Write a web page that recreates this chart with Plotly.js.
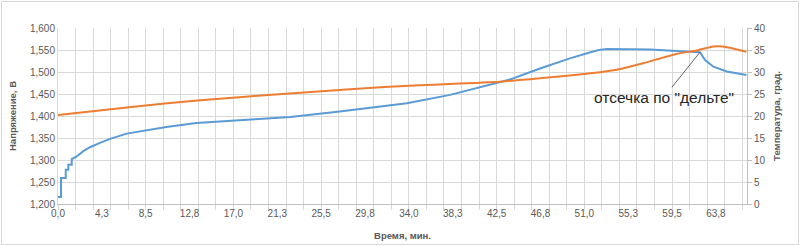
<!DOCTYPE html>
<html><head><meta charset="utf-8">
<script src="https://cdn.plot.ly/plotly-3.0.1.min.js"></script>
<style>html,body{margin:0;padding:0;background:#fff;}#c{width:800px;height:246px;}</style>
</head><body><div id="c"></div>
<script>
// Voltage series (time, min / volts)
var timeV = [0, 0.29, 0.29, 0.75, 0.75, 1.0, 1.0, 1.33, 1.33, 1.81, 2.45, 3.1, 4.07, 5.04, 6.66, 8.9, 10.5, 13.4, 17.0, 22.5, 27.3, 28.3, 33.8, 38.0, 40.2, 42.8, 43.8, 46.7, 49.6, 51.6, 52.4, 53.2, 57.4, 59.9, 62.0, 62.2, 62.7, 63.5, 64.8, 66.7];
var voltage = [1.216, 1.216, 1.259, 1.259, 1.278, 1.278, 1.289, 1.289, 1.302, 1.308, 1.320, 1.329, 1.339, 1.348, 1.360, 1.369, 1.375, 1.384, 1.389, 1.398, 1.410, 1.413, 1.429, 1.448, 1.461, 1.477, 1.483, 1.508, 1.531, 1.545, 1.550, 1.552, 1.551, 1.548, 1.545, 1.545, 1.527, 1.512, 1.501, 1.493];
var cutoffIndex = 35;
// Temperature series (time, min / deg)
var timeT = [0, 6.9, 13.8, 20.0, 28.3, 35.0, 42.8, 48.3, 51.6, 54.5, 56.7, 59.9, 61.9, 63.5, 64.4, 65.5, 66.7];
var temperature = [20.2, 22.0, 23.6, 24.7, 26.1, 27.0, 27.8, 28.9, 29.7, 30.7, 32.0, 34.1, 34.9, 35.8, 35.8, 35.3, 34.6];
// Tick labels
var xTickVals = [0, 4.25, 8.5, 12.75, 17.0, 21.25, 25.5, 29.75, 34.0, 38.25, 42.5, 46.75, 51.0, 55.25, 59.5, 63.75];
var xTickText = ["0,0","4,3","8,5","12,8","17,0","21,3","25,5","29,8","34,0","38,3","42,5","46,8","51,0","55,3","59,5","63,8"];

var W = 800, H = 246, L = 58, R = 53, T = 28, B = 42;
var pw = W - L - R, ph = H - T - B;
function px(x){return (x - L)/pw;}
function py(y){return (H - B - y)/ph;}

var grey = '#595959', grid = '#d9d9d9';
var fontFam = 'Liberation Sans, Arial, sans-serif';

var traces = [
  {x: timeV, y: voltage, type: 'scatter', mode: 'lines', line: {color: '#5b9bd5', width: 2}, yaxis: 'y', hoverinfo: 'skip'},
  {x: timeT, y: temperature, type: 'scatter', mode: 'lines', line: {color: '#ed7d31', width: 2, shape: 'spline', smoothing: 0.6}, yaxis: 'y2', hoverinfo: 'skip'}
];

var layout = {
  width: W, height: H,
  margin: {l: L, r: R, t: T, b: B, pad: 0},
  paper_bgcolor: '#fff', plot_bgcolor: '#fff',
  showlegend: false,
  separators: ', ',
  font: {family: fontFam, size: 10, color: grey},
  xaxis: {
    range: [0, 66.76], tickmode: 'array', tickvals: xTickVals, ticktext: xTickText,
    showgrid: false, ticks: '', zeroline: false,
    showline: true, linecolor: '#bfbfbf', linewidth: 1,
    tickfont: {size: 10, color: grey},
    minor: {tickmode: 'linear', tick0: 0, dtick: 1.7, showgrid: true, gridcolor: grid, gridwidth: 1, ticks: 'outside', ticklen: 5, tickcolor: grid},
    title: {text: 'Время, мин.', font: {size: 9.5, color: grey, family: fontFam, weight: 'bold'}, standoff: 14}
  },
  yaxis: {
    range: [1.2, 1.6], dtick: 0.05, tick0: 1.2, tickformat: '.3f',
    showgrid: true, gridcolor: grid, zeroline: false,
    showline: true, linecolor: grid, ticks: '',
    tickfont: {size: 10, color: grey},
    title: {text: 'Напряжение, В', font: {size: 9.5, color: grey, family: fontFam, weight: 'bold'}, standoff: 11}
  },
  yaxis2: {
    range: [0, 40], dtick: 5, tick0: 0, overlaying: 'y', side: 'right',
    showgrid: false, zeroline: false,
    showline: true, linecolor: '#bfbfbf', ticks: 'outside', ticklen: 4, tickcolor: '#bfbfbf',
    tickfont: {size: 10, color: grey},
    title: {text: 'Температура, град.', font: {size: 9.5, color: grey, family: fontFam, weight: 'bold'}, standoff: 8}
  },
  annotations: [{
    x: timeV[cutoffIndex], y: voltage[cutoffIndex], xref: 'x', yref: 'y',
    text: 'отсечка по "дельте"', showarrow: true, arrowhead: 0, arrowwidth: 0.8, arrowcolor: '#404040',
    ax: -36, ay: 45, standoff: 0, startstandoff: 0,
    font: {size: 15.5, color: '#262626', family: fontFam}
  }],
  shapes: [{
    type: 'rect', xref: 'paper', yref: 'paper',
    x0: px(1.5), x1: px(798.5), y0: py(244.5), y1: py(1.5),
    line: {color: '#d9d9d9', width: 1}, layer: 'below'
  }]
};

Plotly.newPlot('c', traces, layout, {staticPlot: true, displayModeBar: false});
</script></body></html>
